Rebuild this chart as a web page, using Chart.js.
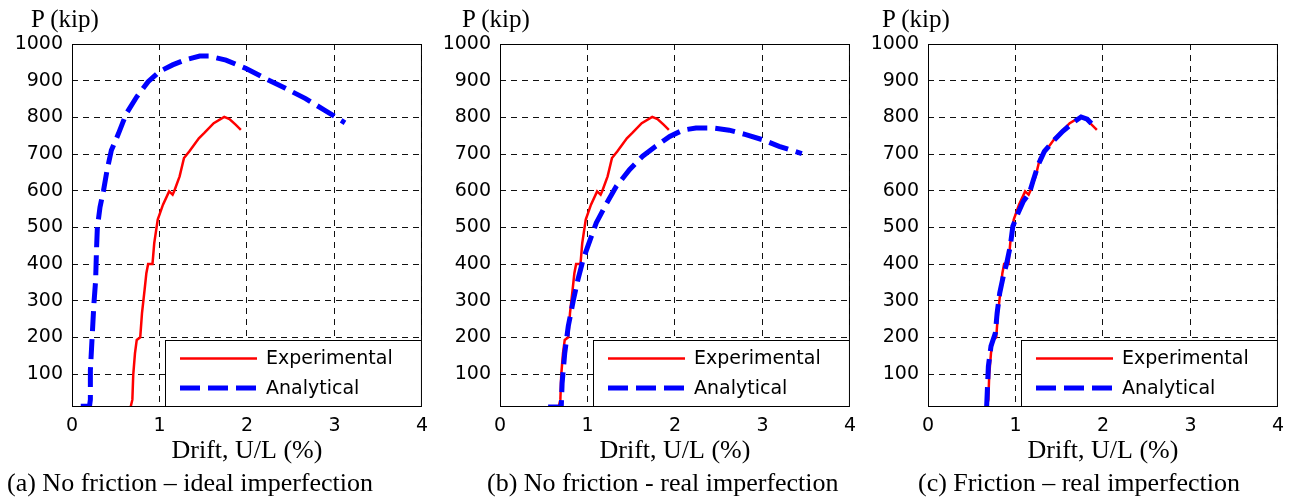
<!DOCTYPE html>
<html>
<head>
<meta charset="utf-8">
<script src="https://cdn.jsdelivr.net/npm/chart.js@4.4.1/dist/chart.umd.min.js"></script>
<style>
    body { margin: 0; background: #fff; width: 1296px; height: 498px; overflow: hidden; position: relative;
           font-family: "Liberation Serif", "Times New Roman", serif; color: #000; }
    .panel { position: absolute; top: 0; width: 436px; height: 498px; }
    .ylab { position: absolute; top: 6px; font-size: 25px; line-height: 25px; white-space: nowrap; }
    .cap { position: absolute; top: 470px; font-size: 26px; line-height: 26px; white-space: nowrap; }
</style>
</head>
<body>
<div class="panel" style="left:0px"><canvas id="chart-a" width="436" height="498"></canvas></div>
<div class="panel" style="left:428px"><canvas id="chart-b" width="436" height="498"></canvas></div>
<div class="panel" style="left:856px"><canvas id="chart-c" width="436" height="498"></canvas></div>

<div class="ylab" style="left:31px">P (kip)</div>
<div class="ylab" style="left:462px">P (kip)</div>
<div class="ylab" style="left:882px">P (kip)</div>

<div class="cap" style="left:7px">(a) No friction – ideal imperfection</div>
<div class="cap" style="left:487px">(b) No friction - real imperfection</div>
<div class="cap" style="left:918px">(c) Friction – real imperfection</div>

<script>
(function () {
    // axis ticks
    const driftTicks = [0, 1, 2, 3, 4];
    const loadTicks = [100, 200, 300, 400, 500, 600, 700, 800, 900, 1000];
    const xTitle = "Drift, U/L (%)";
    const seriesNames = ["Experimental", "Analytical"];

    // test curve (same in all three panels)
    const expDrift = [0.67, 0.69, 0.70, 0.72, 0.74, 0.78, 0.80, 0.83, 0.85, 0.87, 0.92, 0.94, 0.98, 1.04, 1.11, 1.15, 1.17, 1.23, 1.28, 1.34, 1.45, 1.51, 1.62, 1.74, 1.80, 1.87, 1.93];
    const expLoad  = [10, 30, 98, 157, 193, 200, 266, 330, 375, 400, 400, 457, 521, 562, 598, 589, 600, 639, 689, 707, 743, 757, 784, 801, 795, 780, 766];

    // (a) no friction, ideal imperfection
    const anaDriftA = [0.10, 0.20, 0.21, 0.21, 0.23, 0.25, 0.27, 0.28, 0.29, 0.32, 0.36, 0.40, 0.45, 0.53, 0.62, 0.74, 0.87, 1.00, 1.15, 1.31, 1.46, 1.57, 1.76, 1.99, 2.21, 2.44, 2.67, 2.89, 3.12];
    const anaLoadA  = [12, 12, 30, 110, 200, 290, 355, 439, 500, 555, 600, 655, 710, 755, 810, 856, 897, 925, 943, 958, 967, 967, 956, 933, 906, 879, 851, 819, 785];

    // (b) no friction, real imperfection
    const anaDriftB = [0.55, 0.70, 0.71, 0.74, 0.78, 0.84, 0.89, 0.95, 1.03, 1.10, 1.22, 1.33, 1.48, 1.63, 1.78, 1.94, 2.09, 2.24, 2.43, 2.62, 2.81, 3.00, 3.19, 3.45];
    const anaLoadB  = [10, 10, 75, 157, 230, 303, 357, 412, 466, 512, 566, 612, 657, 694, 721, 748, 765, 771, 771, 765, 753, 739, 721, 701];

    // (c) friction, real imperfection
    const anaDriftC = [0.67, 0.69, 0.72, 0.77, 0.79, 0.82, 0.86, 0.90, 0.94, 0.97, 1.03, 1.09, 1.16, 1.20, 1.26, 1.33, 1.43, 1.54, 1.66, 1.75, 1.82, 1.88];
    const anaLoadC  = [10, 121, 176, 212, 266, 321, 366, 403, 448, 503, 539, 571, 594, 626, 671, 707, 735, 762, 786, 801, 795, 780];

    Chart.defaults.font.family = "'DejaVu Sans', sans-serif";
    Chart.defaults.color = "#000";

    function pts(xs, ys) {
        return xs.map(function (x, i) { return { x: x, y: ys[i] }; });
    }

    // solid frame round the plot + boxed legend in the lower right corner
    const framePlugin = {
        id: "frame",
        afterDraw: function (chart) {
            const a = chart.chartArea;
            const ctx = chart.ctx;
            ctx.save();
            ctx.strokeStyle = "#000";
            ctx.lineWidth = 1;
            ctx.setLineDash([]);
            ctx.strokeRect(a.left + 0.5, a.top + 0.5, a.right - a.left - 1, a.bottom - a.top - 1);

            const bx = a.left + 93, by = a.top + 296;
            const bw = a.right - bx, bh = a.bottom - by;
            ctx.fillStyle = "#fff";
            ctx.fillRect(bx, by, bw, bh);
            ctx.strokeRect(bx + 0.5, by + 0.5, bw - 1, bh - 1);

            ctx.font = "19px 'DejaVu Sans', sans-serif";
            ctx.textBaseline = "middle";
            ctx.textAlign = "left";
            chart.data.datasets.forEach(function (ds, i) {
                const yy = by + 18.5 + i * 29.5;
                ctx.beginPath();
                ctx.strokeStyle = ds.borderColor;
                ctx.lineWidth = ds.borderWidth;
                ctx.setLineDash(ds.borderDash || []);
                ctx.moveTo(bx + 15, yy);
                ctx.lineTo(bx + 92, yy);
                ctx.stroke();
                ctx.fillStyle = "#000";
                ctx.fillText(ds.label, bx + 101, yy + 1);
            });
            ctx.restore();
        }
    };

    function plain(v) { return String(v); }

    function makeChart(id, anaDrift, anaLoad) {
        return new Chart(document.getElementById(id), {
            type: "line",
            data: {
                datasets: [
                    { label: seriesNames[0], data: pts(expDrift, expLoad), borderColor: "#ff0000",
                      borderWidth: 2.5, pointRadius: 0, tension: 0, order: 1 },
                    { label: seriesNames[1], data: pts(anaDrift, anaLoad), borderColor: "#0000ff",
                      borderWidth: 5, borderDash: [20, 8], borderCapStyle: "butt", pointRadius: 0, tension: 0, order: 0 }
                ]
            },
            options: {
                responsive: false,
                animation: false,
                devicePixelRatio: 1,
                layout: { padding: { left: 0, right: 12, top: 44, bottom: 0 } },
                plugins: { legend: { display: false }, tooltip: { enabled: false } },
                scales: {
                    x: {
                        type: "linear", min: 0, max: 4,
                        afterBuildTicks: function (s) { s.ticks = driftTicks.map(function (v) { return { value: v }; }); },
                        afterFit: function (s) { s.height = 91; },
                        ticks: { padding: 8, font: { size: 19 }, callback: plain },
                        grid: { color: "#111", lineWidth: 1, drawTicks: false },
                        border: { display: false, dash: [6, 5] },
                        title: { display: true, text: xTitle, padding: { top: 0, bottom: 31 },
                                 font: { family: "'Liberation Serif', serif", size: 26, lineHeight: 1.2 } }
                    },
                    y: {
                        type: "linear", min: 10, max: 1000,
                        afterBuildTicks: function (s) { s.ticks = loadTicks.map(function (v) { return { value: v }; }); },
                        afterFit: function (s) { s.width = 72; },
                        ticks: { padding: 9, font: { size: 19 }, callback: plain },
                        grid: { color: "#111", lineWidth: 1, drawTicks: false },
                        border: { display: false, dash: [6, 5] }
                    }
                }
            },
            plugins: [framePlugin]
        });
    }

    makeChart("chart-a", anaDriftA, anaLoadA);
    makeChart("chart-b", anaDriftB, anaLoadB);
    makeChart("chart-c", anaDriftC, anaLoadC);
})();
</script>
</body>
</html>
